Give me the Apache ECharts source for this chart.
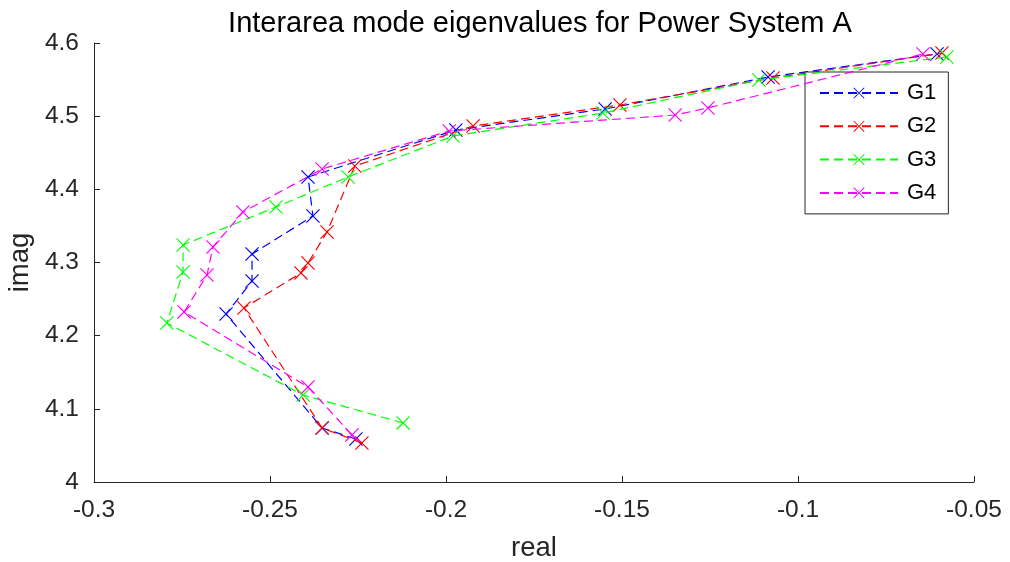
<!DOCTYPE html>
<html>
<head>
<meta charset="utf-8">
<script src="https://cdn.jsdelivr.net/npm/echarts@6/dist/echarts.min.js"></script>
<style>html,body{margin:0;padding:0;background:#fff}#c{width:1010px;height:562px}</style>
</head>
<body>
<div id="c"></div>
<script>
const seriesNames = ['G1', 'G2', 'G3', 'G4'];
const seriesColors = ['#0000ff', '#ff0000', '#00ff00', '#ff00ff'];

const g1Real = [-0.2256, -0.2352, -0.2625, -0.2551, -0.2551, -0.2378, -0.2392, -0.1972, -0.1548, -0.1085, -0.0605];
const g1Imag = [4.0588, 4.0738, 4.2296, 4.2747, 4.3116, 4.3636, 4.4169, 4.4811, 4.5098, 4.5535, 4.5850];

const g2Real = [-0.2239, -0.2352, -0.2574, -0.2412, -0.2392, -0.2338, -0.2259, -0.1923, -0.1506, -0.1071, -0.0591];
const g2Imag = [4.0533, 4.0738, 4.2378, 4.2857, 4.2993, 4.3417, 4.4319, 4.4866, 4.5153, 4.5522, 4.5863];

const g3Real = [-0.2122, -0.2406, -0.2793, -0.2747, -0.2747, -0.2483, -0.2278, -0.1980, -0.1554, -0.1111, -0.0577];
const g3Imag = [4.0807, 4.1189, 4.2173, 4.2870, 4.3239, 4.3759, 4.4169, 4.4729, 4.5043, 4.5494, 4.5809];

const g4Real = [-0.2267, -0.2392, -0.2744, -0.2679, -0.2662, -0.2577, -0.2352, -0.1991, -0.1349, -0.1256, -0.0645];
const g4Imag = [4.0643, 4.1299, 4.2324, 4.2829, 4.3212, 4.3690, 4.4278, 4.4797, 4.5016, 4.5112, 4.5850];

const xTicks = [-0.3, -0.25, -0.2, -0.15, -0.1, -0.05];
const yTicks = [4, 4.1, 4.2, 4.3, 4.4, 4.5, 4.6];

const allReal = [g1Real, g2Real, g3Real, g4Real];
const allImag = [g1Imag, g2Imag, g3Imag, g4Imag];

const xMark = 'path://M0,0.6L0.6,0L10,9.4L9.4,10Z M9.4,0L10,0.6L0.6,10L0,9.4Z';
const fontFam = '"Liberation Sans", Arial, Helvetica, sans-serif';
const axisCol = '#262626';

const series = seriesNames.map((name, i) => ({
  name: name,
  type: 'line',
  data: allReal[i].map((x, k) => [x, allImag[i][k]]),
  symbol: xMark,
  symbolSize: 14,
  showSymbol: true,
  color: seriesColors[i],
  itemStyle: { color: seriesColors[i] },
  lineStyle: { color: seriesColors[i], width: 1.2, type: [9, 5] },
  z: 2 + i
}));

const chart = echarts.init(document.getElementById('c'), null, { renderer: 'canvas' });
chart.setOption({
  animation: false,
  backgroundColor: '#ffffff',
  title: {
    text: 'Interarea mode eigenvalues for Power System A',
    left: 535, top: 4, textAlign: 'center',
    textStyle: { fontFamily: fontFam, fontSize: 29, fontWeight: 'normal', color: '#000' }
  },
  grid: { left: 94, right: 36, top: 43, bottom: 80, outerBoundsMode: 'none', containLabel: false },
  legend: {
    orient: 'vertical',
    left: 805, top: 72,
    width: 116,
    padding: [10, 12, 10, 14],
    itemGap: 11.3,
    itemWidth: 78,
    itemHeight: 14,
    backgroundColor: '#ffffff',
    borderColor: axisCol,
    borderWidth: 1,
    borderRadius: 0,
    data: seriesNames,
    textStyle: { fontFamily: fontFam, fontSize: 22, color: '#000', padding: [0, 0, 0, 4] }
  },
  xAxis: {
    type: 'value',
    min: xTicks[0], max: xTicks[xTicks.length - 1], interval: 0.05,
    name: 'real', nameLocation: 'middle', nameGap: 52,
    nameTextStyle: { fontFamily: fontFam, fontSize: 27.5, color: '#262626' },
    axisLine: { onZero: false, lineStyle: { color: axisCol, width: 1 } },
    axisTick: { inside: true, length: 6, lineStyle: { color: axisCol } },
    axisLabel: { fontFamily: fontFam, fontSize: 24.5, color: '#262626', margin: 16,
      formatter: v => String(+v.toFixed(2)) },
    splitLine: { show: false }
  },
  yAxis: {
    type: 'value',
    min: yTicks[0], max: yTicks[yTicks.length - 1], interval: 0.1,
    name: 'imag', nameLocation: 'middle', nameGap: 53,
    nameTextStyle: { fontFamily: fontFam, fontSize: 27.5, color: '#262626' },
    axisLine: { onZero: false, lineStyle: { color: axisCol, width: 1 } },
    axisTick: { inside: true, length: 6, lineStyle: { color: axisCol } },
    axisLabel: { fontFamily: fontFam, fontSize: 24.5, color: '#262626', margin: 15,
      formatter: v => String(+v.toFixed(1)) },
    splitLine: { show: false }
  },
  series: series
});
</script>
</body>
</html>
